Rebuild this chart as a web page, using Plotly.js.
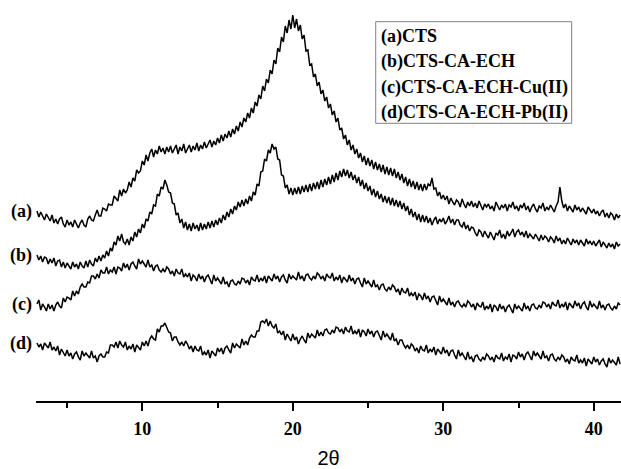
<!DOCTYPE html>
<html>
<head>
<meta charset="utf-8">
<script src="https://cdn.plot.ly/plotly-3.0.1.min.js"></script>
<style>
  html, body { margin: 0; padding: 0; background: #fff; }
  #chart { width: 621px; height: 469px; }
</style>
</head>
<body>
<div id="chart"></div>
<script>
// Diffraction angle (2θ, degrees), 0.125° scan step
const twoTheta = [
  3,3.125,3.25,3.375,3.5,3.625,3.75,3.875,
  4,4.125,4.25,4.375,4.5,4.625,4.75,4.875,
  5,5.125,5.25,5.375,5.5,5.625,5.75,5.875,
  6,6.125,6.25,6.375,6.5,6.625,6.75,6.875,
  7,7.125,7.25,7.375,7.5,7.625,7.75,7.875,
  8,8.125,8.25,8.375,8.5,8.625,8.75,8.875,
  9,9.125,9.25,9.375,9.5,9.625,9.75,9.875,
  10,10.125,10.25,10.375,10.5,10.625,10.75,10.875,
  11,11.125,11.25,11.375,11.5,11.625,11.75,11.875,
  12,12.125,12.25,12.375,12.5,12.625,12.75,12.875,
  13,13.125,13.25,13.375,13.5,13.625,13.75,13.875,
  14,14.125,14.25,14.375,14.5,14.625,14.75,14.875,
  15,15.125,15.25,15.375,15.5,15.625,15.75,15.875,
  16,16.125,16.25,16.375,16.5,16.625,16.75,16.875,
  17,17.125,17.25,17.375,17.5,17.625,17.75,17.875,
  18,18.125,18.25,18.375,18.5,18.625,18.75,18.875,
  19,19.125,19.25,19.375,19.5,19.625,19.75,19.875,
  20,20.125,20.25,20.375,20.5,20.625,20.75,20.875,
  21,21.125,21.25,21.375,21.5,21.625,21.75,21.875,
  22,22.125,22.25,22.375,22.5,22.625,22.75,22.875,
  23,23.125,23.25,23.375,23.5,23.625,23.75,23.875,
  24,24.125,24.25,24.375,24.5,24.625,24.75,24.875,
  25,25.125,25.25,25.375,25.5,25.625,25.75,25.875,
  26,26.125,26.25,26.375,26.5,26.625,26.75,26.875,
  27,27.125,27.25,27.375,27.5,27.625,27.75,27.875,
  28,28.125,28.25,28.375,28.5,28.625,28.75,28.875,
  29,29.125,29.25,29.375,29.5,29.625,29.75,29.875,
  30,30.125,30.25,30.375,30.5,30.625,30.75,30.875,
  31,31.125,31.25,31.375,31.5,31.625,31.75,31.875,
  32,32.125,32.25,32.375,32.5,32.625,32.75,32.875,
  33,33.125,33.25,33.375,33.5,33.625,33.75,33.875,
  34,34.125,34.25,34.375,34.5,34.625,34.75,34.875,
  35,35.125,35.25,35.375,35.5,35.625,35.75,35.875,
  36,36.125,36.25,36.375,36.5,36.625,36.75,36.875,
  37,37.125,37.25,37.375,37.5,37.625,37.75,37.875,
  38,38.125,38.25,38.375,38.5,38.625,38.75,38.875,
  39,39.125,39.25,39.375,39.5,39.625,39.75,39.875,
  40,40.125,40.25,40.375,40.5,40.625,40.75,40.875,
  41,41.125,41.25,41.375,41.5,41.625,41.75
];

// Stacked intensities (a.u.), each pattern already offset for display
const intensityCTS = [
  190,184,189,184,181,187,183,180,
  186,178,182,177,182,184,177,174,
  181,176,179,174,181,177,173,178,
  181,176,174,182,185,181,180,186,
  191,185,185,193,192,190,197,196,
  196,205,203,200,211,205,212,208,
  211,219,214,223,220,231,228,230,
  240,236,246,240,248,252,244,251,
  247,255,249,253,247,254,249,255,
  248,252,256,247,254,250,257,248,
  253,256,249,255,251,258,250,256,
  252,259,253,258,261,254,260,256,
  263,258,266,260,267,263,270,264,
  272,267,275,270,279,274,283,279,
  288,283,293,288,299,295,306,302,
  315,310,322,318,331,327,341,337,
  353,349,364,359,375,368,381,372,
  386,373,382,370,376,362,366,350,
  351,336,337,324,327,315,319,307,
  311,300,304,293,297,286,290,279,
  283,271,273,262,266,256,261,251,
  256,247,252,243,248,239,245,236,
  243,235,241,232,239,231,237,229,
  236,227,234,226,233,225,232,223,
  229,221,227,218,224,215,222,214,
  220,212,219,211,217,210,217,211,
  217,215,223,212,213,205,209,202,
  206,201,205,197,203,199,196,201,
  199,194,202,197,193,199,195,200,
  194,198,193,200,195,191,197,194,
  197,192,195,190,199,194,191,196,
  193,197,190,196,194,199,192,195,
  190,196,193,198,191,195,189,194,
  197,192,189,195,193,198,190,194,
  191,196,192,189,195,199,214,200,
  193,197,190,195,192,189,196,191,
  194,189,193,190,187,194,191,188,
  192,187,190,185,189,191,184,188,
  183,188,186,181,187,183,186
];

const intensityCtsCaEch = [
  146,141,145,139,144,143,137,142,
  138,143,135,140,141,134,139,133,
  138,135,132,139,134,137,132,139,
  135,133,140,134,141,137,135,143,
  139,145,140,146,143,150,145,153,
  150,159,156,165,160,167,159,157,
  162,156,164,160,169,164,172,168,
  177,173,182,180,189,187,196,195,
  207,205,214,212,221,216,209,208,
  198,197,186,188,178,182,173,179,
  171,177,170,178,172,176,170,178,
  171,177,172,179,173,180,174,181,
  176,183,178,186,181,189,184,192,
  187,195,191,199,194,201,195,202,
  197,205,200,209,206,217,215,229,
  230,242,240,251,248,257,252,254,
  242,241,226,225,213,216,207,213,
  206,213,207,214,207,215,209,216,
  209,217,210,218,212,219,212,221,
  214,222,216,224,217,226,219,228,
  221,230,224,232,225,231,223,229,
  221,226,218,224,215,221,212,218,
  210,215,206,212,204,210,202,207,
  199,205,198,204,196,203,195,201,
  194,200,192,198,190,195,186,192,
  184,189,181,187,179,186,179,185,
  178,183,176,181,184,177,182,179,
  183,177,180,185,178,182,176,181,
  181,176,174,179,172,176,170,174,
  173,168,165,171,169,164,170,166,
  163,169,165,161,168,166,171,163,
  167,162,170,165,168,172,164,169,
  171,166,169,164,170,163,167,165,
  162,167,164,160,166,161,165,163,
  159,164,162,158,165,160,163,157,
  161,157,163,159,156,162,158,161,
  156,161,158,155,162,157,160,156,
  160,155,158,161,154,159,156,153,
  158,154,157,152,159,155,157
];

const intensityCtsCaEchCu = [
  97,101,91,97,94,90,97,92,
  96,90,96,99,95,93,103,99,
  104,103,101,110,105,110,107,114,
  117,114,114,119,118,125,125,122,
  127,123,131,128,128,134,127,131,
  129,134,127,134,133,130,138,133,
  137,131,137,139,135,132,142,137,
  140,137,134,141,134,136,130,135,
  136,131,129,132,129,134,132,127,
  130,125,132,128,127,132,124,127,
  124,128,120,126,124,120,127,122,
  125,119,124,126,121,117,126,120,
  123,120,117,124,117,119,114,120,
  121,117,116,120,117,123,122,118,
  121,116,124,121,120,126,119,123,
  120,125,118,125,123,120,127,122,
  125,119,124,126,121,118,127,122,
  125,123,121,129,122,125,120,126,
  127,123,121,125,122,128,126,122,
  125,120,127,124,123,128,120,124,
  121,126,118,124,122,119,126,120,
  123,117,122,123,118,114,123,117,
  120,117,114,121,114,116,111,116,
  117,112,110,114,111,116,114,109,
  112,106,113,109,108,113,105,108,
  105,109,101,107,105,101,108,102,
  105,99,104,105,100,96,105,99,
  102,99,96,103,96,99,94,99,
  100,96,94,97,94,100,98,94,
  97,91,98,95,94,99,91,95,
  92,97,89,96,94,90,97,92,
  95,89,94,96,91,88,97,92,
  95,93,90,98,92,95,90,96,
  97,93,92,96,93,99,98,94,
  97,92,99,96,95,101,93,97,
  94,99,91,98,96,93,100,95,
  98,92,97,99,94,91,100,94,
  97,95,92,100,93,96,91,96,
  97,93,91,95,92,98,96
];

const intensityCtsCaEchPb = [
  58,54,57,51,58,55,53,59,
  51,54,50,55,46,52,49,45,
  51,45,48,42,47,49,44,41,
  50,45,48,46,43,50,43,45,
  39,45,47,44,44,49,48,56,
  56,54,59,53,60,56,54,59,
  51,55,52,57,49,56,54,51,
  59,55,60,55,62,65,62,61,
  72,69,75,75,78,74,69,68,
  60,64,64,59,56,59,55,60,
  57,52,55,49,55,51,50,55,
  46,49,46,51,43,50,48,45,
  53,49,53,47,53,55,51,48,
  58,53,57,55,53,62,56,60,
  56,63,66,64,64,70,70,79,
  80,78,82,75,80,75,73,77,
  68,70,66,70,61,67,64,60,
  67,61,64,57,62,65,61,58,
  68,63,67,65,63,71,65,69,
  65,71,72,68,67,71,68,74,
  73,69,72,67,74,70,69,75,
  67,70,67,72,64,71,69,65,
  72,67,70,64,69,70,65,61,
  70,64,67,64,61,68,60,62,
  56,61,61,56,53,56,52,57,
  55,50,53,48,55,51,50,56,
  48,52,49,54,46,52,50,47,
  54,48,51,45,50,51,46,42,
  51,45,48,45,41,49,42,44,
  39,45,46,42,40,44,41,47,
  45,41,44,39,46,43,42,48,
  40,44,42,47,39,46,45,42,
  49,44,47,41,47,49,44,41,
  50,45,48,45,42,50,43,45,
  40,46,47,42,40,44,41,46,
  44,39,42,37,44,41,40,46,
  38,41,38,43,35,42,40,37,
  44,39,42,36,40,42,37,34,
  43,38,41,39,36,44,37
];

const patterns = [
  { tag: '(a)', name: 'CTS', y: intensityCTS },
  { tag: '(b)', name: 'CTS-CA-ECH', y: intensityCtsCaEch },
  { tag: '(c)', name: 'CTS-CA-ECH-Cu(II)', y: intensityCtsCaEchCu },
  { tag: '(d)', name: 'CTS-CA-ECH-Pb(II)', y: intensityCtsCaEchPb }
];

const serifBold = { family: 'Liberation Serif, Times New Roman, serif', size: 18, color: '#000', weight: 'bold' };

const traces = patterns.map(p => ({
  type: 'scatter',
  mode: 'lines',
  x: twoTheta,
  y: p.y,
  name: p.tag + p.name,
  line: { color: '#000', width: 1.5 },
  showlegend: false,
  hoverinfo: 'skip'
}));

// Curve tags at the start of each pattern
const tagNotes = patterns.map(p => ({
  xref: 'x', yref: 'y',
  x: twoTheta[0], y: p.y[0],
  xanchor: 'right', yanchor: 'middle',
  xshift: -3,
  text: p.tag,
  showarrow: false,
  font: serifBold
}));

// Text key in a framed box
const keyRows = [0.910, 0.847, 0.783, 0.7195];
const keyNotes = patterns.map((p, i) => ({
  xref: 'paper', yref: 'paper',
  x: 0.586, y: keyRows[i],
  xanchor: 'left', yanchor: 'middle',
  text: p.tag + p.name,
  showarrow: false,
  font: serifBold
}));

const layout = {
  width: 621,
  height: 469,
  margin: { l: 36, r: 0, t: 0, b: 68 },
  paper_bgcolor: '#fff',
  plot_bgcolor: '#fff',
  xaxis: {
    range: [2.935, 41.81],
    showgrid: false,
    zeroline: false,
    showline: true,
    linecolor: '#000',
    linewidth: 2,
    ticks: 'outside',
    ticklen: 8,
    tickwidth: 2,
    tickcolor: '#000',
    tick0: 0,
    dtick: 10,
    ticklabelstandoff: 2,
    tickfont: serifBold,
    minor: { dtick: 5, ticks: 'outside', ticklen: 5, tickwidth: 2, tickcolor: '#000' },
    title: { text: '2θ', font: { family: 'Liberation Sans, Arial, sans-serif', size: 20, color: '#000' }, standoff: 18 }
  },
  yaxis: {
    range: [0, 401],
    visible: false,
    fixedrange: true
  },
  shapes: [{
    type: 'rect', xref: 'paper', yref: 'paper',
    x0: 0.5807, x1: 0.9157, y0: 0.6925, y1: 0.9459,
    line: { color: '#808080', width: 1 },
    fillcolor: 'rgba(0,0,0,0)'
  }],
  annotations: tagNotes.concat(keyNotes)
};

Plotly.newPlot('chart', traces, layout, { staticPlot: true, displayModeBar: false });
</script>
</body>
</html>
